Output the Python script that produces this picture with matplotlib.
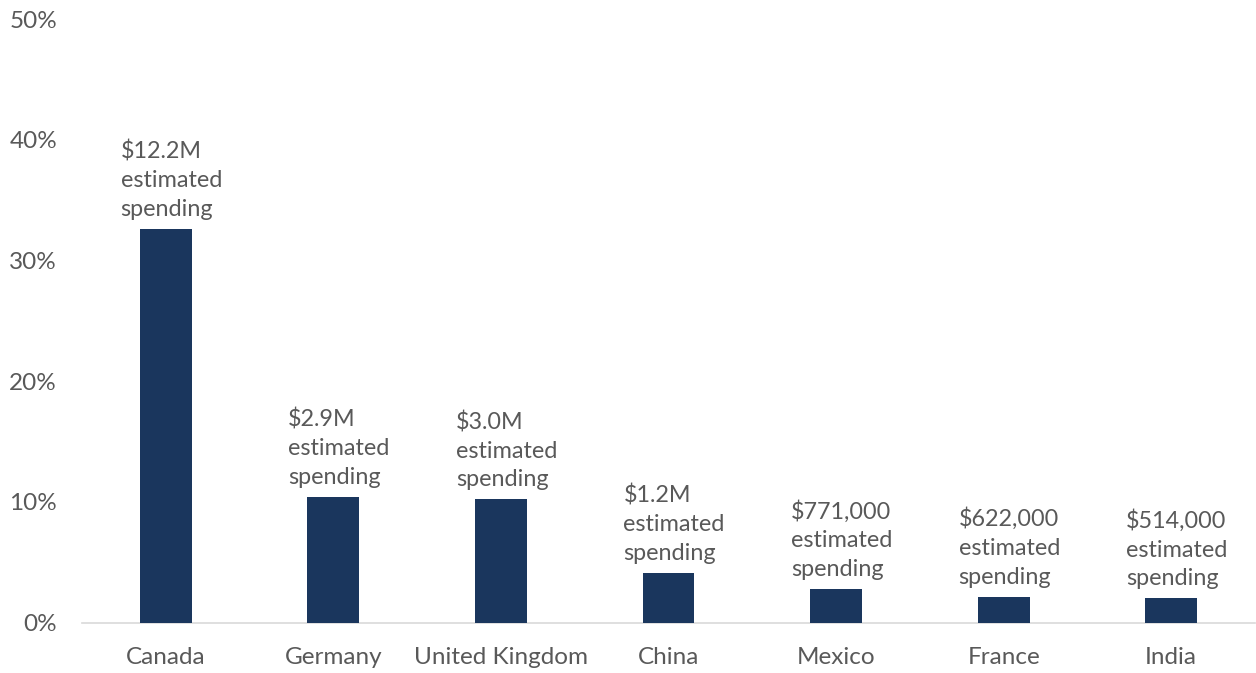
import matplotlib
matplotlib.use("Agg")
import matplotlib.pyplot as plt
from matplotlib.ticker import PercentFormatter

countries = ["Canada", "Germany", "United Kingdom", "China", "Mexico", "France", "India"]
share_pct = [32.6, 10.4, 10.2, 4.1, 2.8, 2.15, 2.0]
spending = ["$12.2M", "$2.9M", "$3.0M", "$1.2M", "$771,000", "$622,000", "$514,000"]
y_ticks = [0, 10, 20, 30, 40, 50]

BAR = "#1a365d"
TEXT = "#595959"

plt.rcParams["font.family"] = ["Lato", "DejaVu Sans"]

fig = plt.figure(figsize=(12.56, 6.73), dpi=100)
ax = fig.add_axes([82 / 1256, 1 - 622.5 / 673, 1173 / 1256, (622.5 - 19) / 673])

x = list(range(len(countries)))
bars = ax.bar(x, share_pct, width=0.31, color=BAR, zorder=3)

for xi, val, spend in zip(x, share_pct, spending):
    ax.annotate(f"{spend}\nestimated\nspending", xy=(xi, val), xytext=(4, 6.5),
                textcoords="offset points", ha="center", va="bottom",
                multialignment="left", fontsize=16.8, color=TEXT, linespacing=1.45)

ax.set_xlim(-0.5, len(countries) - 0.5)
ax.set_ylim(0, 50)
ax.set_yticks(y_ticks)
ax.yaxis.set_major_formatter(PercentFormatter(decimals=0))
ax.set_xticks(x)
ax.set_xticklabels(countries)

for side in ("top", "right", "left"):
    ax.spines[side].set_visible(False)
ax.spines["bottom"].set_color("#d9d9d9")
ax.spines["bottom"].set_linewidth(1.2)
ax.tick_params(axis="both", length=0, labelsize=17.5, labelcolor=TEXT)
ax.tick_params(axis="y", pad=18)
ax.tick_params(axis="x", pad=18)

fig.savefig("out.png", dpi=100)
